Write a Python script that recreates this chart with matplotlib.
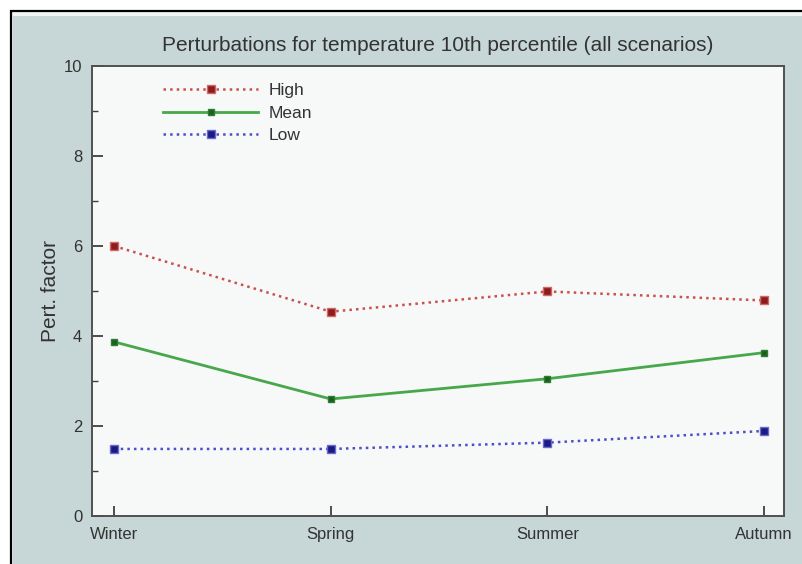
import matplotlib.pyplot as plt
from matplotlib.patches import Rectangle

plt.rcParams['font.family'] = ['Liberation Sans', 'DejaVu Sans']

# data
seasons = ['Winter', 'Spring', 'Summer', 'Autumn']
high = [6.0, 4.54, 4.99, 4.79]
mean = [3.87, 2.6, 3.05, 3.63]
low = [1.49, 1.49, 1.63, 1.89]

W, H = 802, 564
fig = plt.figure(figsize=(W / 100, H / 100), dpi=100)
fig.patch.set_facecolor('white')

# outer frame + grey backdrop
fig.add_artist(Rectangle((11 / W, -0.01), 1.0, (H - 11) / H + 0.01,
                         transform=fig.transFigure, facecolor='#f2f5f5',
                         edgecolor='black', linewidth=1.6, zorder=-10))
fig.add_artist(Rectangle((12.5 / W, -0.01), 1.0, (H - 16) / H + 0.01,
                         transform=fig.transFigure, facecolor='#c7d6d6',
                         edgecolor='none', zorder=-9))

ax = fig.add_axes([92 / W, (H - 516) / H, (784 - 92) / W, (516 - 66) / H])
ax.set_facecolor('#f7f8f8')

x = list(range(len(seasons)))
ax.plot(x, high, linestyle=':', color='#c8504e', linewidth=1.8,
        marker='s', markersize=6, markerfacecolor='#8e1c1c',
        markeredgecolor='#d06a6a', label='High')
ax.plot(x, mean, linestyle='-', color='#46a84a', linewidth=2.0,
        marker='s', markersize=4, markerfacecolor='#1b5e20',
        markeredgecolor='#2e7d32', label='Mean')
ax.plot(x, low, linestyle=':', color='#4e4ec8', linewidth=1.8,
        marker='s', markersize=6, markerfacecolor='#1a1a80',
        markeredgecolor='#6a6ad0', label='Low')

ax.set_xlim(-0.102, 3.092)
ax.set_ylim(0, 10)
ax.set_xticks(x)
ax.set_xticklabels(seasons)
ax.set_yticks([0, 2, 4, 6, 8, 10])
ax.set_yticks([1, 3, 5, 7, 9], minor=True)

for s in ax.spines.values():
    s.set_color('#505050')
    s.set_linewidth(1.4)

ax.tick_params(axis='y', which='major', direction='in', length=8, width=1.3,
               color='#404040', labelsize=12, pad=7, labelcolor='#333333')
ax.tick_params(axis='y', which='minor', direction='in', length=4, width=1.0,
               color='#404040')
ax.tick_params(axis='x', which='major', direction='in', length=7, width=1.3,
               color='#404040', labelsize=12, pad=8, labelcolor='#333333')

ax.set_ylabel('Pert. factor', fontsize=15, color='#333333')
ax.yaxis.set_label_coords(-0.046, 0.5)
ax.set_title('Perturbations for temperature 10th percentile (all scenarios)',
             fontsize=15, color='#333333', pad=11)

ax.legend(loc='upper left', bbox_to_anchor=(0.1026, 0.962), frameon=False,
          fontsize=12.5, handlelength=5.5, handletextpad=0.57, labelspacing=0.42,
          borderpad=0, borderaxespad=0, numpoints=1, labelcolor='#333333')

fig.savefig('out.png', dpi=100)
